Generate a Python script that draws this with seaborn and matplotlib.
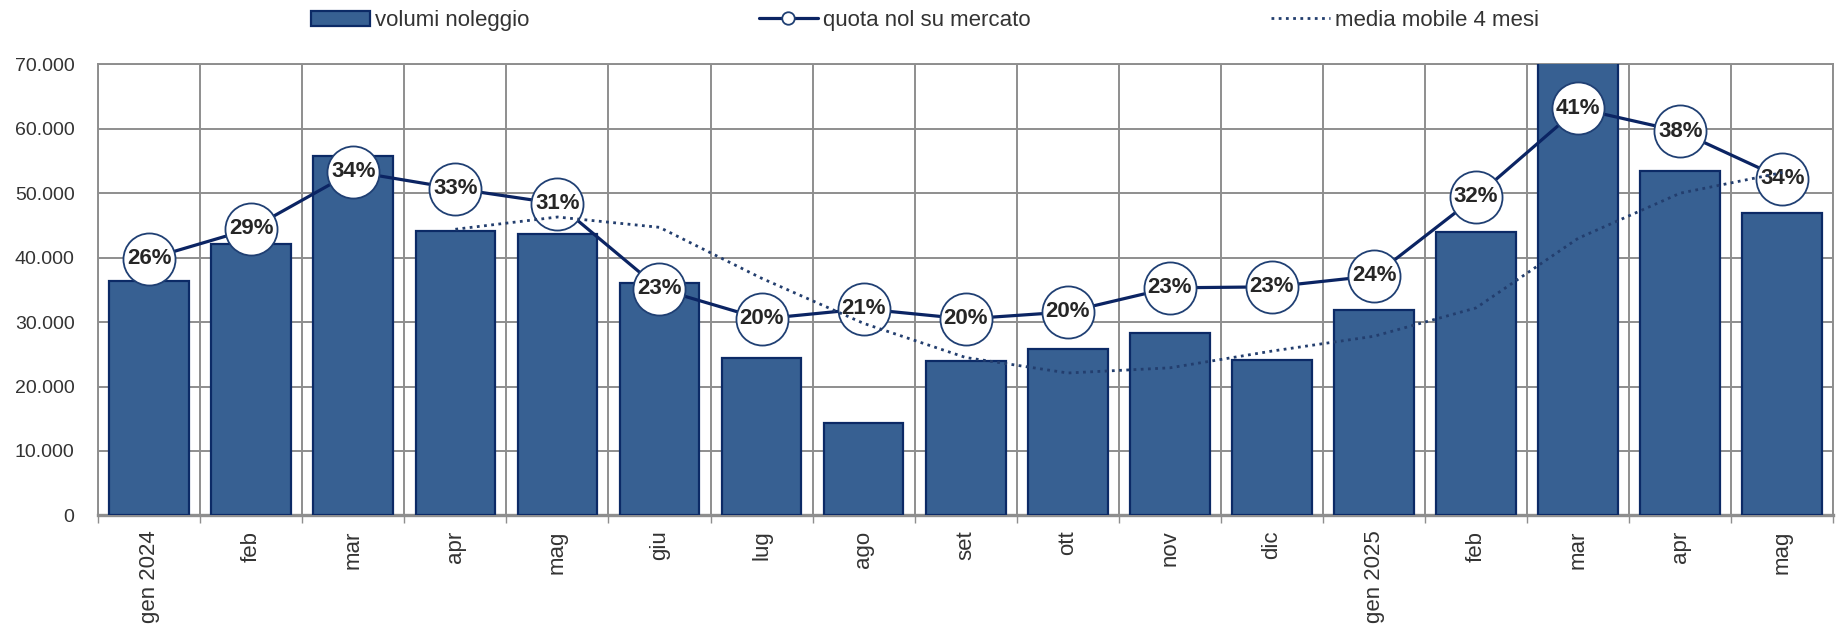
import numpy as np
import pandas as pd
import matplotlib
matplotlib.use("Agg")
import matplotlib.pyplot as plt
from matplotlib.patches import Patch
from matplotlib.lines import Line2D
from matplotlib.ticker import FuncFormatter, FixedLocator
import seaborn as sns

# ---- data ----
months = ["gen 2024", "feb", "mar", "apr", "mag", "giu", "lug", "ago", "set",
          "ott", "nov", "dic", "gen 2025", "feb", "mar", "apr", "mag"]
volumi = [36300, 42100, 55800, 44100, 43600, 36100, 24400, 14300, 23900,
          25800, 28300, 24100, 31900, 43900, 72000, 53400, 47000]
quota = [0.256, 0.286, 0.343, 0.326, 0.311, 0.226, 0.196, 0.206, 0.196,
         0.203, 0.227, 0.228, 0.239, 0.318, 0.406, 0.383, 0.336]
quota_labels = ["26%", "29%", "34%", "33%", "31%", "23%", "20%", "21%", "20%",
                "20%", "23%", "23%", "24%", "32%", "41%", "38%", "34%"]
media_start = 3  # first month with a 4-month moving average (apr 2024)
media_mobile = [44400, 46300, 44700, 36800, 29800, 24500, 22100, 22900,
                25500, 27800, 32200, 43000, 50000, 53200]
y_ticks = [0, 10000, 20000, 30000, 40000, 50000, 60000, 70000]
legend_labels = ["volumi noleggio", "quota nol su mercato", "media mobile 4 mesi"]

BAR = "#376092"
BAR_EDGE = "#0C2A66"
LINE = "#0B2463"
DOT = "#233E6E"
GRID = "#8E8E8E"
TXT = "#333333"

sns.set_theme(style="white")
plt.rcParams["font.family"] = ["Liberation Sans", "DejaVu Sans"]

fig = plt.figure(figsize=(18.37, 6.24), dpi=100)
ax = fig.add_axes([0.0534, 0.174, 0.9446, 0.723])

idx = np.arange(len(months))
df = pd.DataFrame({"x": idx, "mese": months, "volumi": volumi, "quota": quota})

sns.barplot(data=df, x="x", y="volumi", ax=ax, color=BAR, width=0.78,
            edgecolor=BAR_EDGE, linewidth=1.6, saturation=1, native_scale=True,
            zorder=3)

ax.set_xlim(-0.5, len(months) - 0.5)
ax.set_ylim(0, 70000)
ax.yaxis.set_major_locator(FixedLocator(y_ticks))
ax.yaxis.set_major_formatter(FuncFormatter(lambda v, p: f"{int(v):,}".replace(",", ".")))
ax.set_xticks(idx)
ax.set_xticklabels(months, rotation=90, va="top", ha="center")
ax.set_xticks(np.arange(-0.5, len(months), 1.0), minor=True)
ax.tick_params(axis="x", which="major", length=0, pad=11, labelsize=16, labelcolor=TXT)
ax.tick_params(axis="x", which="minor", length=6, width=1.0, color=GRID, bottom=True)
ax.tick_params(axis="y", length=0, pad=17, labelsize=14, labelcolor=TXT)
ax.set_xlabel("")
ax.set_ylabel("")
ax.grid(False)
ax.yaxis.grid(True, color=GRID, linewidth=1.4, zorder=0)
ax.xaxis.grid(True, which="minor", color=GRID, linewidth=1.4, zorder=0)
ax.set_axisbelow(True)
for s in ["left", "right", "top"]:
    ax.spines[s].set_color(GRID)
    ax.spines[s].set_linewidth(1.4)
ax.spines["bottom"].set_color(GRID)
ax.spines["bottom"].set_linewidth(2.4)

# quota line on secondary (hidden) axis
ax2 = ax.twinx()
ax2.set_ylim(0, 0.45)
sns.lineplot(data=df, x="x", y="quota", ax=ax2, color=LINE, linewidth=2.3,
             marker="o", markersize=37.5, markerfacecolor="white",
             markeredgecolor="#1F3F73", markeredgewidth=1.3, zorder=4)
for xi, q, lab in zip(idx, quota, quota_labels):
    ax2.text(xi, q, lab, ha="center", va="center", fontsize=16, fontweight="bold",
             color="#262626", zorder=6)
ax2.set_axis_off()
ax2.set_xlim(-0.5, len(months) - 0.5)

# moving average on a third axis sharing the primary scale (drawn on top)
ax3 = ax.twinx()
ax3.set_ylim(0, 70000)
ax3.set_xlim(-0.5, len(months) - 0.5)
mm_df = pd.DataFrame({"x": idx[media_start:], "mm": media_mobile})
sns.lineplot(data=mm_df, x="x", y="mm", ax=ax3, color=DOT, linewidth=2.0,
             linestyle=(0, (1, 1.6)), zorder=7)
ax3.set_axis_off()

handles = [
    Patch(facecolor=BAR, edgecolor=BAR_EDGE, linewidth=1.6),
    Line2D([], [], color=LINE, linewidth=2.3, marker="o", markersize=9,
           markerfacecolor="white", markeredgecolor="#1F3F73", markeredgewidth=1.3),
    Line2D([], [], color=DOT, linewidth=2.0, linestyle=(0, (1, 1.6))),
]
legend_x = [311 / 1837, 759 / 1837, 1271 / 1837]
for h, lab, lx in zip(handles, legend_labels, legend_x):
    fig.legend([h], [lab], loc="center left", bbox_to_anchor=(lx, 0.967),
               frameon=False, fontsize=16, handlelength=2.65, handletextpad=0.25,
               borderpad=0, borderaxespad=0, labelcolor=TXT)

fig.savefig("out.png", dpi=100)
